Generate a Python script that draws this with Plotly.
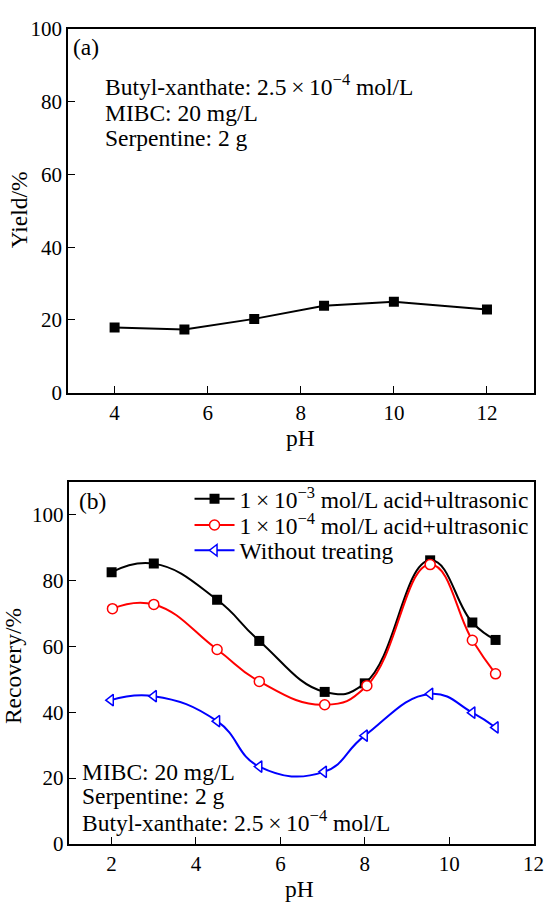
import plotly.graph_objects as go

# ---- data panel (a)
ph_a = [4, 5.5, 7, 8.5, 10, 12]
yield_a = [17.9, 17.4, 20.3, 23.9, 25.0, 22.9]

# ---- data panel (b)
ph_b1 = [2, 3, 4.5, 5.5, 7.05, 8.0, 9.55, 10.55, 11.1]
rec_b1 = [82.6, 85.2, 74.2, 61.7, 46.2, 48.8, 86.2, 67.3, 62.0]
ph_b2 = [2.02, 3.0, 4.5, 5.5, 7.05, 8.05, 9.55, 10.55, 11.1]
rec_b2 = [71.5, 72.8, 59.1, 49.4, 42.3, 48.1, 84.9, 61.9, 51.7]
ph_b3 = [1.98, 3.0, 4.5, 5.5, 7.03, 8.0, 9.55, 10.55, 11.1]
rec_b3 = [43.7, 44.9, 37.3, 23.5, 21.9, 32.9, 45.6, 39.9, 35.4]

X = "\u2009×\u2009"
names_b = ["1" + X + "10<sup>−3</sup> mol/L acid+ultrasonic",
           "1" + X + "10<sup>−4</sup> mol/L acid+ultrasonic",
           "Without treating"]

FONT = "Liberation Serif, Times New Roman, serif"
W, H = 556, 915
TXT = 23.5

fig = go.Figure()

fig.add_trace(go.Scatter(
    x=ph_a, y=yield_a, mode="lines+markers", xaxis="x", yaxis="y",
    line=dict(color="black", width=2),
    marker=dict(symbol="square", size=10, color="black"),
    showlegend=False))

fig.add_trace(go.Scatter(
    x=ph_b1, y=rec_b1, mode="lines+markers", xaxis="x2", yaxis="y2", legend="legend",
    name=names_b[0], line=dict(color="black", width=2, shape="spline", smoothing=1.3),
    marker=dict(symbol="square", size=10, color="black")))
fig.add_trace(go.Scatter(
    x=ph_b2, y=rec_b2, mode="lines+markers", xaxis="x2", yaxis="y2", legend="legend2",
    name=names_b[1], line=dict(color="red", width=2, shape="spline", smoothing=1.3),
    marker=dict(symbol="circle", size=10, color="white", line=dict(color="red", width=1.5))))
fig.add_trace(go.Scatter(
    x=ph_b3, y=rec_b3, mode="lines+markers", xaxis="x2", yaxis="y2", legend="legend3",
    name=names_b[2], line=dict(color="blue", width=2, shape="spline", smoothing=1.3),
    marker=dict(symbol="triangle-left", size=10, color="white", line=dict(color="blue", width=1.5))))

axis_common = dict(showline=True, linecolor="black", linewidth=1.5, mirror=True,
                   ticks="inside", ticklen=7, tickwidth=1.3, tickcolor="black",
                   showgrid=False, zeroline=False,
                   tickfont=dict(family=FONT, size=21, color="black"))

def leg(yc):
    return dict(x=193 / W, y=1 - yc / H, xanchor="left", yanchor="middle",
                bgcolor="rgba(0,0,0,0)", font=dict(family=FONT, size=TXT, color="black"),
                tracegroupgap=0, itemwidth=40)

fig.update_layout(
    width=W, height=H,
    margin=dict(l=0, r=0, t=0, b=0),
    paper_bgcolor="white", plot_bgcolor="white",
    font=dict(family=FONT, size=TXT, color="black"),
    xaxis=dict(domain=[69.3 / W, 543.3 / W], range=[3, 13], tickvals=[4, 6, 8, 10, 12],
               anchor="y", **axis_common),
    yaxis=dict(domain=[1 - 391 / H, 1 - 17.3 / H], range=[0, 100], tickvals=[0, 20, 40, 60, 80, 100],
               anchor="x", **axis_common),
    xaxis2=dict(domain=[70.7 / W, 543.3 / W], range=[1, 12], tickvals=[2, 4, 6, 8, 10, 12],
                anchor="y2", **axis_common),
    yaxis2=dict(domain=[1 - 854.3 / H, 1 - 482.7 / H], range=[0, 110], tickvals=[0, 20, 40, 60, 80, 100],
                anchor="x2", **axis_common),
    legend=leg(500),
    legend2=leg(527),
    legend3=leg(553),
)

def ann(x, y, text, size=TXT, xanchor="left", yanchor="middle", textangle=0):
    fig.add_annotation(x=x / W, y=1 - y / H, xref="paper", yref="paper", text=text,
                       showarrow=False, xanchor=xanchor, yanchor=yanchor, textangle=textangle,
                       font=dict(family=FONT, size=size, color="black"), align="left")

# panel (a) texts
ann(72, 36, "(a)")
ann(105, 75, "Butyl-xanthate: 2.5" + X + "10<sup>−4</sup> mol/L")
ann(105, 104, "MIBC: 20 mg/L")
ann(105, 129, "Serpentine: 2 g")
ann(19, 203, "Yield/%", xanchor="center", textangle=-90)
ann(306, 437, "pH", xanchor="center")

# panel (b) texts
ann(78, 502, "(b)")
ann(81, 780, "MIBC: 20 mg/L")
ann(81, 805, "Serpentine: 2 g")
ann(81, 831, "Butyl-xanthate: 2.5" + X + "10<sup>−4</sup> mol/L")
ann(14, 672, "Recovery/%", xanchor="center", textangle=-90)
ann(305, 901, "pH", xanchor="center")

fig.write_html("out.html")
